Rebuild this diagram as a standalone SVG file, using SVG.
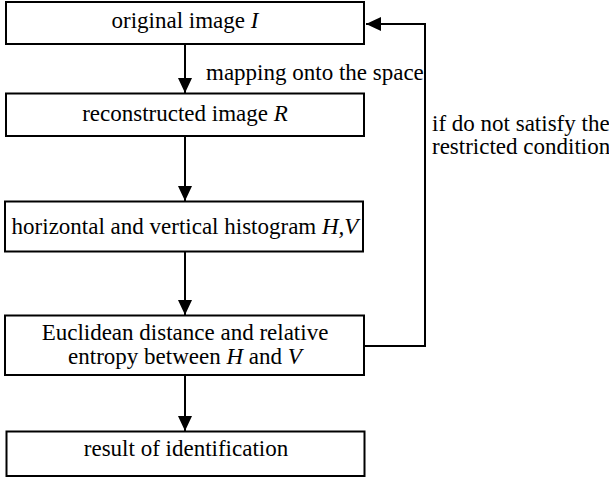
<svg xmlns="http://www.w3.org/2000/svg" width="609" height="478" viewBox="0 0 609 478">
<style>
.box{fill:#fff;stroke:#000;stroke-width:2}
.t{font-family:"Liberation Serif","Times New Roman",serif;font-size:23px;fill:#000}
.c{text-anchor:middle}
.i{font-style:italic}
.ln{fill:none;stroke:#000;stroke-width:2}
</style>
<defs>
<marker id="ah" markerWidth="15" markerHeight="14" refX="15" refY="7" orient="auto" markerUnits="userSpaceOnUse">
<path d="M0,0 L15,7 L0,14 Z" fill="#000"/>
</marker>
</defs>
<rect width="609" height="478" fill="#fff"/>
<g id="connectors">
<line class="ln" x1="185" y1="44" x2="185" y2="93" marker-end="url(#ah)"/>
<line class="ln" x1="185" y1="136" x2="185" y2="201" marker-end="url(#ah)"/>
<line class="ln" x1="185" y1="251.5" x2="185" y2="315" marker-end="url(#ah)"/>
<line class="ln" x1="185" y1="375" x2="185" y2="431" marker-end="url(#ah)"/>
<polyline class="ln" points="364,346 425,346 425,24 366,24" marker-end="url(#ah)"/>
<text class="t" x="206" y="80">mapping onto the space</text>
<text class="t" x="432" y="131">if do not satisfy the</text>
<text class="t" x="432" y="154">restricted condition</text>
</g>
<g id="n1">
<rect class="box" x="6" y="2" width="358" height="42"/>
<text class="t c" x="185" y="28">original image <tspan class="i">I</tspan></text>
</g>
<g id="n2">
<rect class="box" x="6" y="93.5" width="358" height="42.5"/>
<text class="t c" x="185" y="121">reconstructed image <tspan class="i">R</tspan></text>
</g>
<g id="n3">
<rect class="box" x="5" y="201.5" width="358" height="50"/>
<text class="t c" x="185" y="234">horizontal and vertical histogram <tspan class="i">H,V</tspan></text>
</g>
<g id="n4">
<rect class="box" x="5" y="315.5" width="359" height="59.5"/>
<text class="t c" x="185" y="339.5">Euclidean distance and relative</text>
<text class="t c" x="185" y="364">entropy between <tspan class="i">H</tspan> and <tspan class="i">V</tspan></text>
</g>
<g id="n5">
<rect class="box" x="6.5" y="431.5" width="358" height="44.5"/>
<text class="t c" x="186" y="456">result of identification</text>
</g>
</svg>
